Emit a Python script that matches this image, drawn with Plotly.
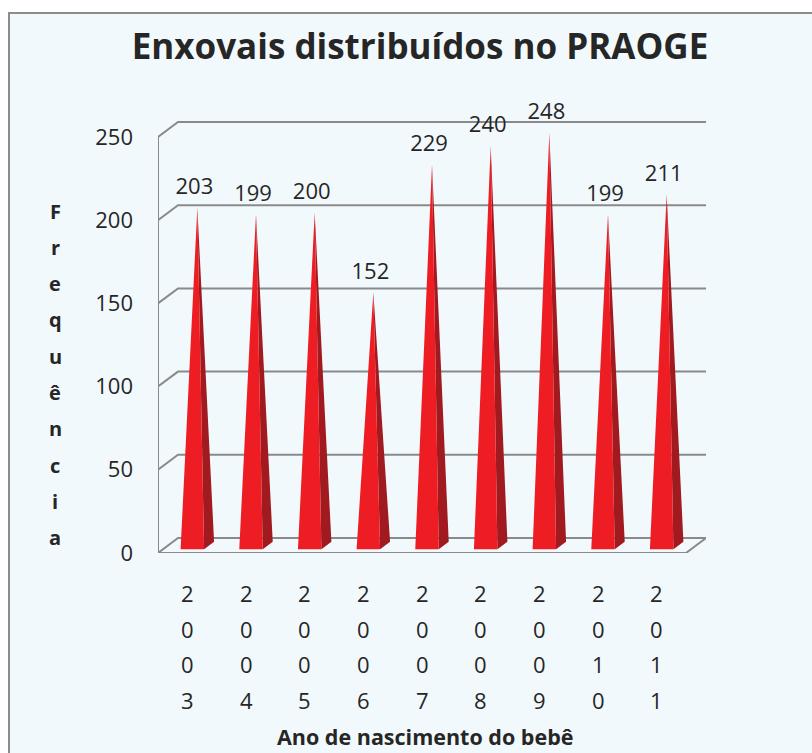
import plotly.graph_objects as go

# ---- data ----
years = ["2003", "2004", "2005", "2006", "2007", "2008", "2009", "2010", "2011"]
values = [203, 199, 200, 152, 229, 240, 248, 199, 211]
y_ticks = [0, 50, 100, 150, 200, 250]
title_text = "Enxovais distribuídos no PRAOGE"
x_title = "Ano de nascimento do bebê"
y_title = "Frequência"

# ---- style / geometry ----
W, H = 812, 753
OFF = 0
FONT = "Open Sans"
TXT = "#262626"
GRID = "#8a8a8a"
FRONT = "#ee1d23"
SIDE = "#a11a1f"
BG = "#f2f9fc"

n = len(years)
dxd = 0.341      # depth offset in category units
dyd = 9.0        # depth offset in value units
half_w = 0.2     # pyramid base half width
x0, x1 = -0.5, n - 0.5
ymax = 280
# plot area in page pixels: x 158..706, y bottom 553, top 87
ml = 158 - OFF
mt = 87 - OFF
plot_w = 706 - 158
plot_h = 553 - 87
mr = W - ml - plot_w
mb = H - mt - plot_h

def px(xp):   # page x pixel -> paper
    return (xp - OFF - ml) / plot_w

def py(yp):   # page y pixel -> paper
    return (mt + plot_h - (yp - OFF)) / plot_h

def depth(x, y, t):
    return x + t * dxd, y + t * dyd

fig = go.Figure()

# gridlines / walls (3D look)
gx, gy = [], []
for v in y_ticks:
    if v == 0:
        pts = [(x1, 0), (x0, 0), depth(x0, 0, 1), depth(x1, 0, 1), (x1, 0)]
    else:
        pts = [(x0, v), depth(x0, v, 1), depth(x1, v, 1)]
    for p in pts:
        gx.append(p[0]); gy.append(p[1])
    gx.append(None); gy.append(None)
gx += [x0, x0, None]
gy += [0, max(y_ticks), None]
fig.add_trace(go.Scatter(x=gx, y=gy, mode="lines", line=dict(color=GRID, width=2),
                         hoverinfo="skip", showlegend=False))

# pyramids
sx, sy, fx, fy, ax, ay = [], [], [], [], [], []
for i, v in enumerate(values):
    fl = depth(i - half_w, 0, 0.25)
    fr = depth(i + half_w, 0, 0.25)
    br = depth(i + half_w, 0, 0.75)
    apex = depth(i, v, 0.5)
    for p in (fr, br, apex, fr):
        sx.append(p[0]); sy.append(p[1])
    sx.append(None); sy.append(None)
    for p in (fl, fr, apex, fl):
        fx.append(p[0]); fy.append(p[1])
    fx.append(None); fy.append(None)
    ax.append(apex[0]); ay.append(apex[1])

fig.add_trace(go.Scatter(x=sx, y=sy, mode="lines", fill="toself", fillcolor=SIDE,
                         line=dict(width=0, color=SIDE), hoverinfo="skip", showlegend=False))
fig.add_trace(go.Scatter(x=fx, y=fy, mode="lines", fill="toself", fillcolor=FRONT,
                         line=dict(width=0, color=FRONT), hoverinfo="skip", showlegend=False))

# data labels
fig.add_trace(go.Scatter(x=[a - 0.05 for a in ax], y=[a + 5 for a in ay], mode="text",
                         text=[str(v) for v in values],
                         textposition="top center", cliponaxis=False,
                         textfont=dict(family=FONT, size=22, color=TXT),
                         hoverinfo="skip", showlegend=False))

annotations = []
# x tick labels written vertically, one digit per row
row0, row_step = 593, 35.6
for i, yr in enumerate(years):
    for j, ch in enumerate(yr):
        annotations.append(dict(x=i, y=py(row0 + row_step * j), xref="x", yref="paper",
                                text=ch, showarrow=False, xanchor="center", yanchor="middle",
                                font=dict(family=FONT, size=22, color=TXT)))
# y axis title, stacked letters
for k, ch in enumerate(y_title):
    annotations.append(dict(x=px(55), y=py(211 + 36.3 * k),
                            xref="paper", yref="paper", text="<b>%s</b>" % ch, showarrow=False,
                            xanchor="center", yanchor="middle",
                            font=dict(family=FONT, size=20, color=TXT)))
# x axis title
annotations.append(dict(x=px(425), y=py(736),
                        xref="paper", yref="paper", text="<b>%s</b>" % x_title, showarrow=False,
                        xanchor="center", yanchor="middle",
                        font=dict(family=FONT, size=21.5, color=TXT)))

fig.update_layout(
    width=W, height=H,
    margin=dict(l=ml, r=mr, t=mt, b=mb),
    paper_bgcolor="white", plot_bgcolor="rgba(0,0,0,0)",
    title=dict(text="<b>%s</b>" % title_text, x=(420 - OFF) / W, xref="container", xanchor="center",
               y=1 - (47 - OFF) / H, yref="container", yanchor="middle",
               font=dict(family=FONT, size=35, color=TXT)),
    xaxis=dict(range=[x0, x1 + dxd], showgrid=False, zeroline=False, showline=False,
               showticklabels=False, fixedrange=True),
    yaxis=dict(range=[0, ymax], tickvals=y_ticks, showgrid=False, zeroline=False, showline=False,
               ticks="", ticklabelstandoff=24,
               tickfont=dict(family=FONT, size=22, color=TXT), fixedrange=True),
    annotations=annotations,
    shapes=[dict(type="rect", xref="paper", yref="paper",
                 x0=px(9), x1=px(W + 30), y0=py(H + 30), y1=py(13),
                 line=dict(color="#8c8c8c", width=2), fillcolor=BG, layer="below")],
    showlegend=False,
)

fig.write_html("out.html", config={"displayModeBar": False},
               post_script="document.body.style.margin='0';document.body.style.overflow='hidden';")
